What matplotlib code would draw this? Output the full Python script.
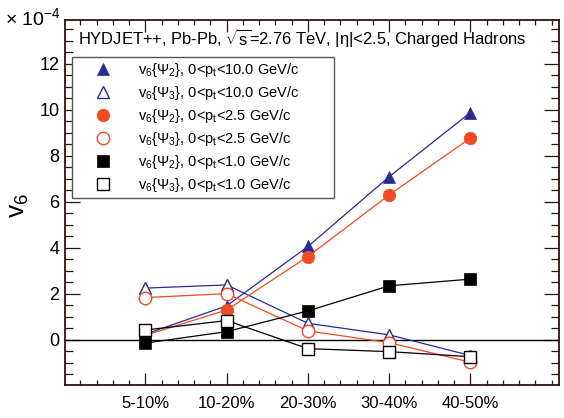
import matplotlib
matplotlib.use("Agg")
import matplotlib.pyplot as plt
from matplotlib.ticker import MultipleLocator, FixedLocator
import numpy as np

plt.rcParams['font.family'] = ['Liberation Sans', 'DejaVu Sans']
plt.rcParams['mathtext.fontset'] = 'custom'
plt.rcParams['mathtext.rm'] = 'Liberation Sans'
plt.rcParams['mathtext.it'] = 'Liberation Sans'
plt.rcParams['mathtext.bf'] = 'Liberation Sans'

categories = ['5-10%', '10-20%', '20-30%', '30-40%', '40-50%']

v6_psi2_pt10 = [0.25, 1.48, 4.06, 7.09, 9.88]
v6_psi3_pt10 = [2.25, 2.39, 0.72, 0.22, -0.68]
v6_psi2_pt25 = [0.20, 1.30, 3.62, 6.30, 8.77]
v6_psi3_pt25 = [1.84, 2.01, 0.39, -0.12, -0.97]
v6_psi2_pt1 = [-0.14, 0.36, 1.26, 2.35, 2.64]
v6_psi3_pt1 = [0.43, 0.84, -0.38, -0.51, -0.73]

labels = [
    r'v$_6${$\Psi_2$}, 0<p$_t$<10.0 GeV/c',
    r'v$_6${$\Psi_3$}, 0<p$_t$<10.0 GeV/c',
    r'v$_6${$\Psi_2$}, 0<p$_t$<2.5 GeV/c',
    r'v$_6${$\Psi_3$}, 0<p$_t$<2.5 GeV/c',
    r'v$_6${$\Psi_2$}, 0<p$_t$<1.0 GeV/c',
    r'v$_6${$\Psi_3$}, 0<p$_t$<1.0 GeV/c',
]

blue = '#2a2a92'
orange = '#f24a22'
black = '#000000'
frame = '#2e1210'

fig = plt.figure(figsize=(5.64, 4.18), dpi=100)
ax = fig.add_axes([65/564, 1-385/418, 494/564, 365/418])

x = np.arange(len(categories))
series = [
    (v6_psi2_pt10, blue, '^', True, 9),
    (v6_psi3_pt10, blue, '^', False, 9),
    (v6_psi2_pt25, orange, 'o', True, 9),
    (v6_psi3_pt25, orange, 'o', False, 9),
    (v6_psi2_pt1, black, 's', True, 8),
    (v6_psi3_pt1, black, 's', False, 8),
]
handles = []
for (vals, col, mk, filled, ms), lab in zip(series, labels):
    h, = ax.plot(x, vals, color=col, lw=0.9, marker=mk, ms=ms,
                 markerfacecolor=col if filled else 'white',
                 markeredgecolor=col, markeredgewidth=1.0 if not filled else 0.5,
                 label=lab, zorder=3)
    handles.append(h)

ax.axhline(0, color='black', lw=1.0, zorder=2)

ax.set_xlim(-0.99, 5.09)
ax.set_ylim(-1.96, 13.9)

ax.set_xticks(x)
ax.set_xticklabels(categories, fontsize=12)
ax.xaxis.set_minor_locator(FixedLocator(np.arange(-0.8, 5.1, 0.2)))
ax.yaxis.set_major_locator(MultipleLocator(2))
ax.yaxis.set_minor_locator(MultipleLocator(0.5))
ax.set_yticks([0, 2, 4, 6, 8, 10, 12])
ax.set_yticklabels(['0', '2', '4', '6', '8', '10', '12'], fontsize=13)

ax.tick_params(axis='x', which='major', direction='in', length=8.5, width=0.9,
               top=True, bottom=True, pad=8, color=frame)
ax.tick_params(axis='x', which='minor', direction='in', length=3.5, width=0.9,
               top=True, bottom=True, color=frame)
ax.tick_params(axis='y', which='major', direction='in', length=11, width=0.9,
               left=True, right=True, pad=4, color=frame)
ax.tick_params(axis='y', which='minor', direction='in', length=5.5, width=0.9,
               left=True, right=True, color=frame)
for s in ax.spines.values():
    s.set_color(frame)
    s.set_linewidth(1.3)

ax.text(0.026, 0.9315, r'HYDJET++, Pb-Pb, $\sqrt{\mathrm{s}}$=2.76 TeV, |η|<2.5, Charged Hadrons',
        transform=ax.transAxes, fontsize=11.9, ha='left', va='baseline')

leg = ax.legend(handles=handles, loc='upper left',
                bbox_to_anchor=(0.0142, 0.515, 0.53, 0.3836), mode='expand',
                fontsize=10.5, frameon=True, fancybox=False, edgecolor='#555555',
                framealpha=1, handlelength=3.8, handletextpad=0.45, borderpad=0.25,
                labelspacing=0.35, borderaxespad=0, numpoints=1)
leg.get_frame().set_linewidth(1.0)
for lh in leg.get_lines():
    lh.set_linestyle('none')

fig.text(19/564, 1-205/418, r'v$_6$', rotation=90, ha='center', va='center', fontsize=19)
fig.text(5/564, 1-25/418, r'× 10$^{-4}$', ha='left', va='baseline', fontsize=14)

fig.savefig('out.png', dpi=100)
